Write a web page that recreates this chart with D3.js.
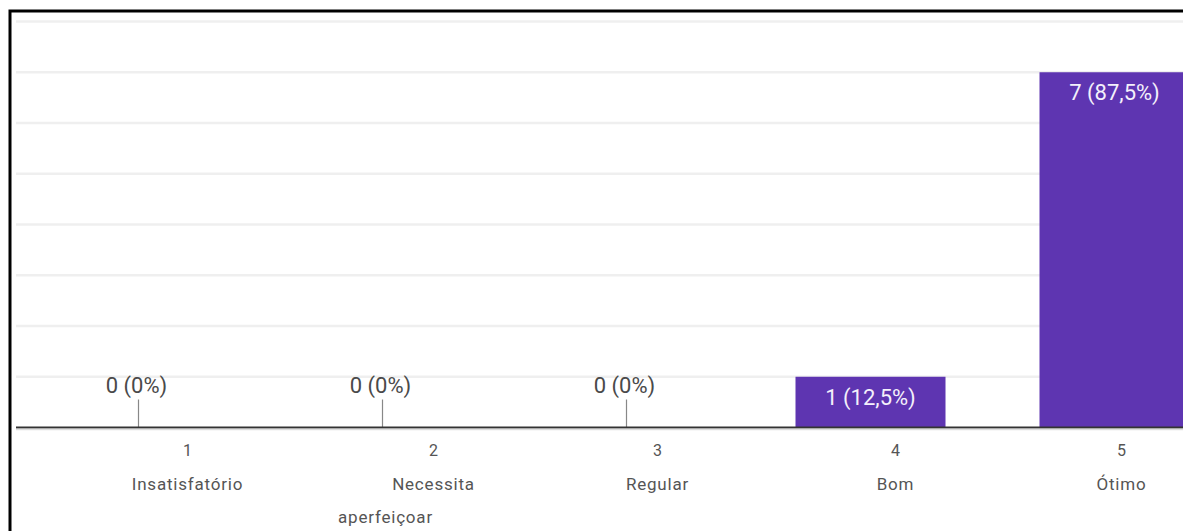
<!DOCTYPE html>
<html>
<head>
<meta charset="utf-8">
<script src="https://cdn.jsdelivr.net/npm/d3@7"></script>
<style>
  body { margin: 0; background: #fff; }
  svg { display: block; }
</style>
</head>
<body>
<script>
// Chart data.
var categories = ["1", "2", "3", "4", "5"];
var labels     = [["Insatisfatório"], ["Necessita", "aperfeiçoar"], ["Regular"], ["Bom"], ["Ótimo"]];
var counts     = [0, 0, 0, 1, 7];
var percents   = ["0%", "0%", "0%", "12,5%", "87,5%"];
var yTicks     = [0, 1, 2, 3, 4, 5, 6, 7, 8];

// Canvas.
var width  = 1183,
    height = 531,
    barColor = "#5e35b1",
    // Label text sits off-centre from the bars in the original.
    labelShift = [49, 51, 31, 25, 7];

var svg = d3.select("body")
    .append("svg")
    .attr("width", width)
    .attr("height", height);

var x = d3.scaleBand()
    .domain(categories)
    .range([16.5, 1236.5])
    .paddingInner(94 / 244)
    .paddingOuter(47 / 244);

var y = d3.scaleLinear()
    .domain([0, 8])
    .range([427.5, 21.5]);

// Gridlines.
svg.selectAll("line.grid")
    .data(yTicks.slice(1))
  .enter()
    .append("line")
    .attr("class", "grid")
    .attr("x1", 16)
    .attr("x2", width)
    .attr("y1", function(d) { return y(d); })
    .attr("y2", function(d) { return y(d); })
    .attr("stroke", "#efefef")
    .attr("stroke-width", 2.5);

// Bars.
svg.selectAll("rect.bar")
    .data(counts)
  .enter()
    .append("rect")
    .attr("class", "bar")
    .attr("x", function(d, i) { return x(categories[i]); })
    .attr("y", function(d) { return y(d); })
    .attr("width", x.bandwidth())
    .attr("height", function(d) { return y(0) - y(d); })
    .attr("fill", barColor);

// Small stems for the empty categories.
svg.selectAll("line.stem")
    .data(counts)
  .enter()
    .filter(function(d) { return d === 0; })
    .append("line")
    .attr("class", "stem")
    .attr("x1", function(d, i) { return x(categories[i]) + x.bandwidth() / 2; })
    .attr("x2", function(d, i) { return x(categories[i]) + x.bandwidth() / 2; })
    .attr("y1", y(0) - 28)
    .attr("y2", y(0))
    .attr("stroke", "#888")
    .attr("stroke-width", 1.2);

// Value labels.
svg.selectAll("text.value")
    .data(counts)
  .enter()
    .append("text")
    .attr("class", "value")
    .text(function(d, i) { return d + " (" + percents[i] + ")"; })
    .attr("text-anchor", "middle")
    .attr("x", function(d, i) { return x(categories[i]) + x.bandwidth() / 2 - (d === 0 ? 2 : 0); })
    .attr("y", function(d) { return d === 0 ? y(0) - 35 : y(d) + 28; })
    .attr("font-family", "Roboto, Arial, sans-serif")
    .attr("font-size", "22px")
    .attr("fill", function(d) { return d === 0 ? "#4a4a4a" : "#f4f0fb"; });

// X axis.
var xAxis = svg.append("g")
    .attr("transform", "translate(0," + y(0) + ")")
    .call(d3.axisBottom(x).tickSize(0).tickFormat(""));
xAxis.select(".domain")
    .attr("d", "M16,0H" + width)
    .attr("stroke", "#333")
    .attr("stroke-width", 2);

svg.append("line")
    .attr("x1", 16).attr("x2", width)
    .attr("y1", y(0) + 2).attr("y2", y(0) + 2)
    .attr("stroke", "#ddd")
    .attr("stroke-width", 1.5);

// Tick labels.
var tick = svg.selectAll("g.tick-label")
    .data(categories)
  .enter()
    .append("g")
    .attr("class", "tick-label")
    .attr("transform", function(d) { return "translate(" + (x(d) + x.bandwidth() / 2) + ",0)"; })
    .attr("font-family", "Roboto, Arial, sans-serif")
    .attr("fill", "#555")
    .attr("text-anchor", "middle");

tick.append("text")
    .text(function(d) { return d; })
    .attr("x", function(d, i) { return labelShift[i]; })
    .attr("y", 456)
    .attr("font-size", "16px");

tick.each(function(d, i) {
    var g = d3.select(this);
    labels[i].forEach(function(line, j) {
        g.append("text")
            .text(line)
            .attr("x", j === 0 ? labelShift[i] : 3)
            .attr("y", 490 + j * 33)
            .attr("font-size", "17px")
            .attr("letter-spacing", "0.8px");
    });
});

// Frame.
svg.append("path")
    .attr("d", "M10,531V11H1183")
    .attr("fill", "none")
    .attr("stroke", "#000")
    .attr("stroke-width", 3);
</script>
</body>
</html>
